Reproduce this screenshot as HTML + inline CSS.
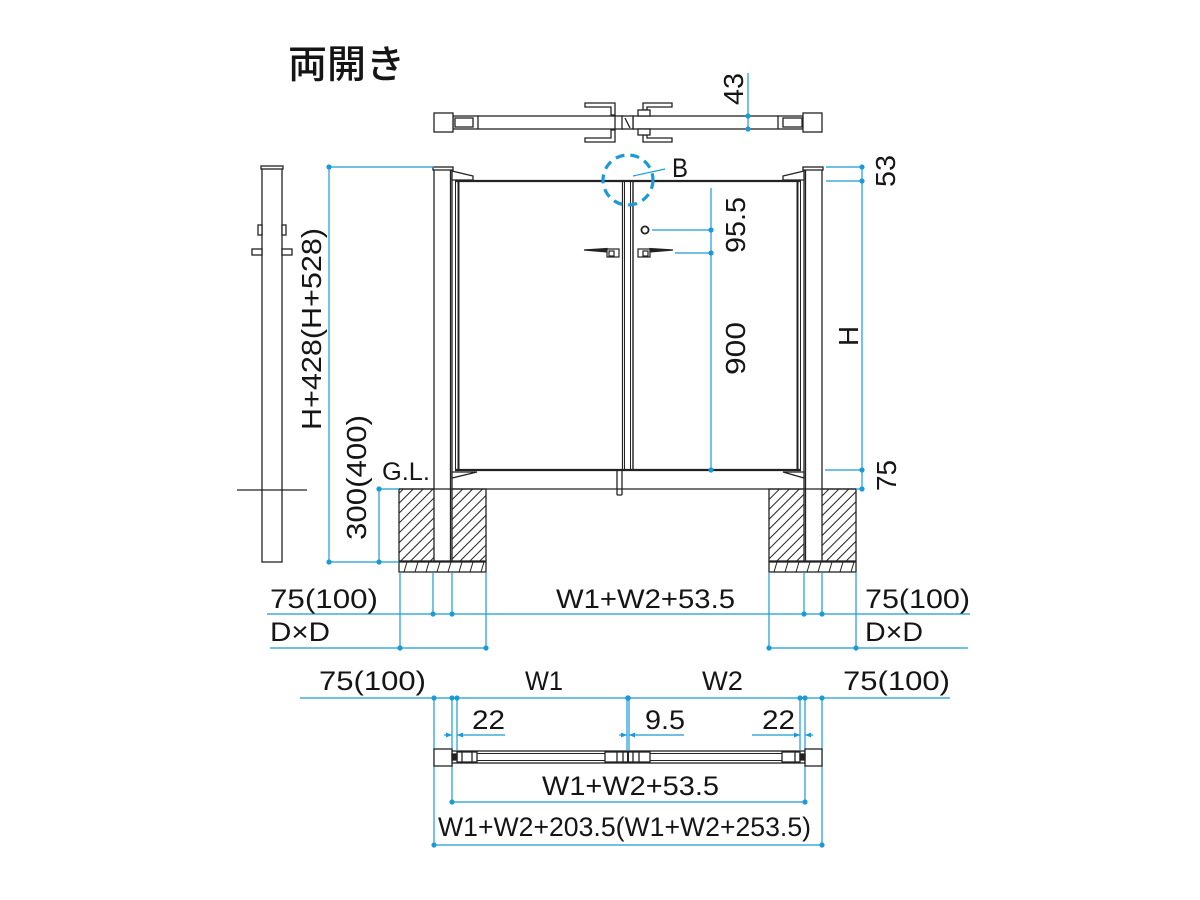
<!DOCTYPE html>
<html><head><meta charset="utf-8"><style>
html,body{margin:0;padding:0;background:#fff;}
svg{display:block;}
text{font-family:"Liberation Sans","Noto Sans CJK JP",sans-serif;fill:#151515;}
</style></head><body>
<svg width="1200" height="900" viewBox="0 0 1200 900" xmlns="http://www.w3.org/2000/svg">
<defs>
<pattern id="h" width="7" height="7" patternUnits="userSpaceOnUse" patternTransform="rotate(45)">
<line x1="1" y1="0" x2="1" y2="7" stroke="#222" stroke-width="1"/>
</pattern>
</defs>
<rect width="1200" height="900" fill="#fff"/>

<!-- Title -->
<text x="288" y="78" font-size="39" font-weight="500" style="font-family:'Noto Sans CJK JP',sans-serif" textLength="117" lengthAdjust="spacingAndGlyphs">両開き</text>

<!-- ========== TOP PLAN VIEW ========== -->
<g stroke="#222" fill="#fff" stroke-width="1.3">
<rect x="453" y="116" width="170" height="13"/>
<rect x="633" y="116" width="170" height="13"/>
<rect x="622" y="116" width="11" height="13"/>
<line x1="625" y1="118" x2="630" y2="128"/>
<line x1="615" y1="116" x2="615" y2="129"/>
<rect x="455" y="118" width="18" height="9"/>
<line x1="478" y1="116" x2="478" y2="129"/>
<rect x="783" y="118" width="19" height="9"/>
<line x1="778" y1="116" x2="778" y2="129"/>
<rect x="434" y="113" width="19" height="19"/>
<rect x="803" y="113" width="19" height="19"/>
<path d="M585,103 H615 V115 H611 V107 H585 Z"/>
<path d="M585,142 H615 V130 H611 V138 H585 Z"/>
<path d="M672,103 H643 V110 H647 V107 H672 Z"/>
<rect x="638" y="110" width="12" height="6"/>
<path d="M672,142 H643 V135 H647 V138 H672 Z"/>
<rect x="638" y="129" width="12" height="6"/>
</g>
<g stroke="#1b9ad8" stroke-width="1.2">
<line x1="748" y1="73" x2="748" y2="129"/>
</g>
<g fill="#1b9ad8">
<circle cx="748" cy="116" r="2.6"/><circle cx="748" cy="129" r="2.6"/>
</g>
<text transform="translate(743,105) rotate(-90)" font-size="28" textLength="32" lengthAdjust="spacingAndGlyphs">43</text>

<!-- ========== LEFT SIDE VIEW ========== -->
<g stroke="#222" fill="#fff" stroke-width="1.3">
<rect x="262" y="168" width="20" height="394"/>
<rect x="261" y="166" width="22" height="3"/>
<rect x="258" y="225" width="4" height="10"/>
<rect x="282" y="225" width="4" height="10"/>
<rect x="252" y="249" width="10" height="6"/>
<rect x="282" y="249" width="10" height="6"/>
<line x1="237" y1="490" x2="307" y2="490"/>
</g>

<!-- ========== FOUNDATIONS ========== -->
<g stroke="#222" stroke-width="1.3">
<rect x="399" y="489" width="87" height="72" fill="url(#h)"/>
<rect x="769" y="489" width="87" height="72" fill="url(#h)"/>
<rect x="399" y="562" width="87" height="10" fill="#fff"/>
<rect x="769" y="562" width="87" height="10" fill="#fff"/>
</g>
<g stroke="#222" stroke-width="1">
<path d="M404,572 L407,562 M415,572 L418,562 M426,572 L429,562 M437,572 L440,562 M448,572 L451,562 M459,572 L462,562 M470,572 L473,562 M481,572 L484,562"/>
<path d="M774,572 L777,562 M785,572 L788,562 M796,572 L799,562 M807,572 L810,562 M818,572 L821,562 M829,572 L832,562 M840,572 L843,562 M851,572 L854,562"/>
</g>

<!-- ========== ELEVATION ========== -->
<g stroke="#222" fill="#fff" stroke-width="1.3">
<rect x="434" y="169" width="18" height="392"/>
<rect x="433" y="167" width="20" height="3"/>
<line x1="450.5" y1="170" x2="450.5" y2="561"/>
<rect x="804" y="169" width="18" height="392"/>
<rect x="803" y="167" width="20" height="3"/>
<line x1="805.5" y1="170" x2="805.5" y2="561"/>
<path d="M452,171 L473,176 L473,180 L452,180 Z"/>
<path d="M804,171 L783,176 L783,180 L804,180 Z"/>
<path d="M452,472 L477,472 L452,478 Z"/>
<path d="M804,472 L783,472 L804,478 Z"/>
<rect x="617" y="470" width="5" height="25" rx="1"/>
</g>
<g stroke="#222" fill="none">
<line x1="455" y1="181" x2="801" y2="181" stroke-width="2.2"/>
<line x1="455" y1="470" x2="801" y2="470" stroke-width="2.2"/>
<line x1="455.5" y1="182" x2="455.5" y2="469" stroke-width="1"/>
<line x1="458.5" y1="182" x2="458.5" y2="469" stroke-width="2"/>
<line x1="622.5" y1="181" x2="622.5" y2="471" stroke-width="1.2"/>
<line x1="624.5" y1="181" x2="624.5" y2="471" stroke-width="1"/>
<line x1="630.5" y1="181" x2="630.5" y2="471" stroke-width="1"/>
<line x1="633" y1="181" x2="633" y2="471" stroke-width="1.4"/>
<line x1="797.5" y1="182" x2="797.5" y2="469" stroke-width="2"/>
<line x1="800.5" y1="182" x2="800.5" y2="469" stroke-width="1"/>
<line x1="399" y1="489" x2="856" y2="489" stroke-width="1.3"/>
</g>
<g stroke="#222" fill="#fff" stroke-width="1.2">
<path d="M584,250 L607,248.5 L607,252 Z" fill="#222"/>
<rect x="607" y="249" width="12" height="8"/>
<rect x="609" y="251" width="5" height="5"/>
<rect x="638" y="249" width="12" height="8"/>
<rect x="643" y="251" width="5" height="5"/>
<path d="M673,250 L650,248.5 L650,252 Z" fill="#222"/>
<circle cx="645" cy="230" r="3.6" stroke-width="1.8"/>
</g>

<circle cx="628" cy="180" r="25" fill="none" stroke="#1b9ad8" stroke-width="3.2" stroke-dasharray="9 6"/>
<line x1="633" y1="176" x2="665" y2="169" stroke="#1b9ad8" stroke-width="1.2"/>
<text x="672" y="177" font-size="27" textLength="16" lengthAdjust="spacingAndGlyphs">B</text>
<text x="382" y="480" font-size="25" textLength="48" lengthAdjust="spacingAndGlyphs">G.L.</text>

<g stroke="#1b9ad8" stroke-width="1.2" fill="none">
<polyline points="434,167 329,167 329,562 399,562"/>
<polyline points="399,489 379,489 379,562"/>
<line x1="711" y1="188" x2="711" y2="470"/>
<line x1="652" y1="230" x2="711" y2="230"/>
<line x1="675" y1="253" x2="711" y2="253"/>
<line x1="862" y1="167" x2="862" y2="489"/>
<line x1="826" y1="167" x2="862" y2="167"/>
<line x1="826" y1="181" x2="862" y2="181"/>
<line x1="825" y1="470" x2="862" y2="470"/>
<line x1="856" y1="489" x2="862" y2="489"/>
</g>
<g fill="#1b9ad8">
<circle cx="329" cy="167" r="2.6"/><circle cx="329" cy="562" r="2.6"/>
<circle cx="379" cy="489" r="2.6"/><circle cx="379" cy="562" r="2.6"/>
<circle cx="711" cy="230" r="2.6"/><circle cx="711" cy="253" r="2.6"/><circle cx="711" cy="470" r="2.6"/>
<circle cx="862" cy="167" r="2.6"/><circle cx="862" cy="181" r="2.6"/><circle cx="862" cy="470" r="2.6"/><circle cx="862" cy="489" r="2.6"/>
</g>
<text transform="translate(321,430) rotate(-90)" font-size="28" textLength="202" lengthAdjust="spacingAndGlyphs">H+428(H+528)</text>
<text transform="translate(366,540) rotate(-90)" font-size="28" textLength="125" lengthAdjust="spacingAndGlyphs">300(400)</text>
<text transform="translate(745,253) rotate(-90)" font-size="28" textLength="56" lengthAdjust="spacingAndGlyphs">95.5</text>
<text transform="translate(745,375) rotate(-90)" font-size="28" textLength="53" lengthAdjust="spacingAndGlyphs">900</text>
<text transform="translate(895,187) rotate(-90)" font-size="28" textLength="32" lengthAdjust="spacingAndGlyphs">53</text>
<text transform="translate(858,346) rotate(-90)" font-size="28" textLength="20" lengthAdjust="spacingAndGlyphs">H</text>
<text transform="translate(896,491) rotate(-90)" font-size="28" textLength="31" lengthAdjust="spacingAndGlyphs">75</text>

<!-- ========== DIMENSION ROW ========== -->
<g stroke="#1b9ad8" stroke-width="1.2" fill="none">
<line x1="267" y1="614" x2="970" y2="614"/>
<line x1="270" y1="648" x2="487" y2="648"/>
<line x1="769" y1="648" x2="968" y2="648"/>
<line x1="400" y1="572" x2="400" y2="648"/>
<line x1="433" y1="572" x2="433" y2="614"/>
<line x1="452" y1="572" x2="452" y2="614"/>
<line x1="486" y1="572" x2="486" y2="648"/>
<line x1="769" y1="572" x2="769" y2="648"/>
<line x1="804" y1="572" x2="804" y2="614"/>
<line x1="822" y1="572" x2="822" y2="614"/>
<line x1="856" y1="572" x2="856" y2="648"/>
</g>
<g fill="#1b9ad8">
<circle cx="433" cy="614" r="2.6"/><circle cx="452" cy="614" r="2.6"/>
<circle cx="400" cy="648" r="2.6"/><circle cx="486" cy="648" r="2.6"/>
<circle cx="804" cy="614" r="2.6"/><circle cx="822" cy="614" r="2.6"/>
<circle cx="769" cy="648" r="2.6"/><circle cx="856" cy="648" r="2.6"/>
</g>
<text x="270" y="608" font-size="27" textLength="108" lengthAdjust="spacingAndGlyphs">75(100)</text>
<text x="270" y="641" font-size="27" textLength="60" lengthAdjust="spacingAndGlyphs">D×D</text>
<text x="556" y="608" font-size="27" textLength="179" lengthAdjust="spacingAndGlyphs">W1+W2+53.5</text>
<text x="865" y="608" font-size="27" textLength="105" lengthAdjust="spacingAndGlyphs">75(100)</text>
<text x="865" y="641" font-size="27" textLength="58" lengthAdjust="spacingAndGlyphs">D×D</text>

<!-- ========== BOTTOM PLAN VIEW ========== -->
<g stroke="#1b9ad8" stroke-width="1.2" fill="none">
<line x1="300" y1="698" x2="950" y2="698"/>
<line x1="434" y1="698" x2="434" y2="845"/>
<line x1="452" y1="698" x2="452" y2="802"/>
<line x1="457" y1="698" x2="457" y2="750"/>
<line x1="627" y1="698" x2="627" y2="750"/>
<line x1="629" y1="698" x2="629" y2="750"/>
<line x1="800" y1="698" x2="800" y2="750"/>
<line x1="805" y1="698" x2="805" y2="802"/>
<line x1="822" y1="698" x2="822" y2="845"/>
<line x1="444" y1="735" x2="452" y2="735"/>
<line x1="457" y1="735" x2="505" y2="735"/>
<line x1="619" y1="735" x2="627" y2="735"/>
<line x1="629" y1="735" x2="684" y2="735"/>
<line x1="752" y1="735" x2="800" y2="735"/>
<line x1="805" y1="735" x2="813" y2="735"/>
<line x1="452" y1="802" x2="805" y2="802"/>
<line x1="434" y1="845" x2="822" y2="845"/>
</g>
<g fill="#1b9ad8">
<circle cx="434" cy="698" r="2.6"/><circle cx="452" cy="698" r="2.6"/><circle cx="457" cy="698" r="2.6"/>
<circle cx="628" cy="698" r="2.8"/><circle cx="800" cy="698" r="2.6"/><circle cx="805" cy="698" r="2.6"/><circle cx="822" cy="698" r="2.6"/>
<circle cx="452" cy="802" r="2.6"/><circle cx="805" cy="802" r="2.6"/>
<circle cx="434" cy="845" r="2.6"/><circle cx="822" cy="845" r="2.6"/>
<path d="M452,735 L446,732.5 L446,737.5 Z"/>
<path d="M457,735 L463,732.5 L463,737.5 Z"/>
<path d="M627,735 L621,732.5 L621,737.5 Z"/>
<path d="M629,735 L635,732.5 L635,737.5 Z"/>
<path d="M800,735 L794,732.5 L794,737.5 Z"/>
<path d="M805,735 L811,732.5 L811,737.5 Z"/>
</g>
<g stroke="#222" fill="#fff" stroke-width="1.3">
<rect x="452" y="751" width="353" height="12"/>
<line x1="457" y1="753.5" x2="800" y2="753.5" stroke-width="1"/>
<line x1="457" y1="760.5" x2="800" y2="760.5" stroke-width="1"/>
<rect x="457" y="752" width="20" height="10"/>
<line x1="462" y1="752" x2="462" y2="762"/>
<line x1="472" y1="752" x2="472" y2="762"/>
<rect x="605" y="752" width="45" height="10"/>
<line x1="617" y1="752" x2="617" y2="762"/>
<line x1="623" y1="752" x2="623" y2="762"/>
<line x1="628" y1="751" x2="628" y2="763" stroke-width="2"/>
<line x1="633" y1="752" x2="633" y2="762"/>
<line x1="639" y1="752" x2="639" y2="762"/>
<rect x="782" y="752" width="18" height="10"/>
<line x1="795" y1="752" x2="795" y2="762"/>
<rect x="434" y="749" width="18" height="17"/>
<rect x="805" y="749" width="17" height="17"/>
<rect x="452" y="754" width="5" height="6" fill="#222"/>
<rect x="800" y="754" width="5" height="6" fill="#222"/>
</g>
<text x="319" y="690" font-size="27" textLength="107" lengthAdjust="spacingAndGlyphs">75(100)</text>
<text x="525" y="690" font-size="27" textLength="38" lengthAdjust="spacingAndGlyphs">W1</text>
<text x="702" y="690" font-size="27" textLength="41" lengthAdjust="spacingAndGlyphs">W2</text>
<text x="843" y="690" font-size="27" textLength="107" lengthAdjust="spacingAndGlyphs">75(100)</text>
<text x="472" y="729" font-size="27" textLength="33" lengthAdjust="spacingAndGlyphs">22</text>
<text x="645" y="729" font-size="27" textLength="40" lengthAdjust="spacingAndGlyphs">9.5</text>
<text x="762" y="729" font-size="27" textLength="33" lengthAdjust="spacingAndGlyphs">22</text>
<text x="542" y="795" font-size="27" textLength="177" lengthAdjust="spacingAndGlyphs">W1+W2+53.5</text>
<text x="438" y="836" font-size="27" textLength="373" lengthAdjust="spacingAndGlyphs">W1+W2+203.5(W1+W2+253.5)</text>
</svg>
</body></html>
